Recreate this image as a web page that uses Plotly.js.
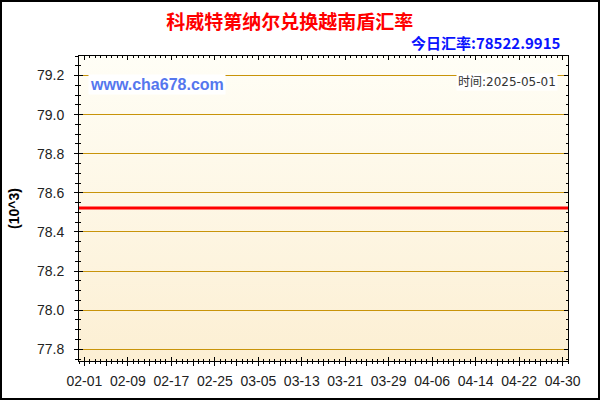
<!DOCTYPE html>
<html>
<head>
<meta charset="utf-8">
<script src="https://cdn.plot.ly/plotly-3.0.1.min.js"></script>
<style>
  html, body { margin: 0; padding: 0; background: #fff; }
  #wrap { position: relative; width: 600px; height: 400px; }
  #chart { width: 600px; height: 400px; }
  #frame { position: absolute; left: 0; top: 0; width: 600px; height: 400px; box-sizing: border-box; border: 2px solid #000; pointer-events: none; }
</style>
</head>
<body>
<div id="wrap"><div id="chart"></div><div id="frame"></div></div>
<script>
// ---- data (values in units of 10^3) ----
const dates = ['2025-01-31', '2025-05-01'];
const rates = [78.5229915, 78.5229915];
const titleText = '科威特第纳尔兑换越南盾汇率';
const todayText = '今日汇率:78522.9915';
const timeText = '时间:2025-05-01';
const siteText = 'www.cha678.com';
const yUnit = '(10^3)';
const xRange = ['2025-01-31', '2025-05-01'];
const yRange = [77.74, 79.30];
const xLabelDates = ['2025-02-01','2025-02-09','2025-02-17','2025-02-25','2025-03-05','2025-03-13','2025-03-21','2025-03-29','2025-04-06','2025-04-14','2025-04-22','2025-04-30'];
const xLabels = ['02-01','02-09','02-17','02-25','03-05','03-13','03-21','03-29','04-06','04-14','04-22','04-30'];

// tick positions: every 4 days, labelled every 8 days
const DAY = 86400000;
const tickVals = [], tickText = [];
const t0 = Date.parse('2025-02-01T00:00:00Z');
const tEnd = Date.parse('2025-05-01T00:00:00Z');
for (let t = t0; t <= tEnd; t += 4 * DAY) {
  const iso = new Date(t).toISOString().slice(0, 10);
  tickVals.push(iso);
  const k = xLabelDates.indexOf(iso);
  tickText.push(k >= 0 ? xLabels[k] : '');
}

const gradSvg = "<svg xmlns='http://www.w3.org/2000/svg' width='100' height='100' preserveAspectRatio='none'>" +
  "<defs><linearGradient id='g' x1='0' y1='0' x2='0' y2='1'>" +
  "<stop offset='0' stop-color='#FFFEF6'/><stop offset='1' stop-color='#FCEFD3'/></linearGradient></defs>" +
  "<rect width='100' height='100' fill='url(#g)'/></svg>";
const gradUri = 'data:image/svg+xml;charset=utf-8,' + encodeURIComponent(gradSvg);

const tickFont = { family: 'Liberation Sans, Arial, sans-serif', size: 14, color: '#222' };

const traces = [
  { x: dates, y: rates, type: 'scatter', mode: 'lines',
    line: { color: '#FF0000', width: 3 }, hoverinfo: 'x+y', showlegend: false },
  { x: [], y: [], xaxis: 'x2', yaxis: 'y2', type: 'scatter', mode: 'lines', showlegend: false, hoverinfo: 'skip' }
];

const layout = {
  width: 600, height: 400,
  margin: { l: 79, r: 32, t: 56, b: 39 },
  paper_bgcolor: '#FFFFFF',
  plot_bgcolor: 'rgba(0,0,0,0)',
  showlegend: false,
  title: {
    text: titleText,
    font: { family: 'Noto Sans CJK SC, sans-serif', size: 19, color: '#FF0000', weight: 'bold' },
    x: 0.483, xanchor: 'center', xref: 'container',
    y: 0.945, yanchor: 'middle', yref: 'container'
  },
  xaxis: {
    type: 'date', range: xRange, fixedrange: true,
    tickmode: 'array', tickvals: tickVals, ticktext: tickText,
    ticks: 'outside', ticklen: 4, tickwidth: 1, tickcolor: '#000',
    minor: { tickmode: 'linear', tick0: '2025-01-31', dtick: DAY, ticks: 'outside', ticklen: 2, tickcolor: '#000', showgrid: false },
    showgrid: false, zeroline: false,
    showline: true, linecolor: '#000', linewidth: 1, mirror: true,
    tickfont: tickFont, ticklabelstandoff: 3
  },
  yaxis: {
    range: yRange, fixedrange: true,
    tickmode: 'linear', tick0: 77.8, dtick: 0.2, tickformat: '.1f',
    ticks: 'outside', ticklen: 4, tickwidth: 1, tickcolor: '#000',
    minor: { tickmode: 'linear', tick0: 77.8, dtick: 0.05, ticks: 'outside', ticklen: 3, tickcolor: '#000', showgrid: false },
    showgrid: true, gridcolor: '#C8940A', gridwidth: 1, zeroline: false,
    showline: true, linecolor: '#000', linewidth: 1, mirror: true,
    tickfont: tickFont, ticklabelstandoff: 7,
    title: { text: yUnit, font: { family: 'Liberation Sans, Arial, sans-serif', size: 14, color: '#000', weight: 'bold' }, standoff: 14 }
  },
  xaxis2: {
    type: 'date', range: xRange, overlaying: 'x', anchor: 'y2', fixedrange: true,
    tickmode: 'array', tickvals: tickVals, ticktext: tickText, showticklabels: false,
    ticks: 'inside', ticklen: 4, tickwidth: 1, tickcolor: '#000', mirror: 'allticks',
    minor: { tickmode: 'linear', tick0: '2025-01-31', dtick: DAY, ticks: 'inside', ticklen: 2, tickcolor: '#000' },
    showgrid: false, zeroline: false, showline: false
  },
  yaxis2: {
    range: yRange, overlaying: 'y', anchor: 'x2', fixedrange: true,
    tickmode: 'linear', tick0: 77.8, dtick: 0.2, showticklabels: false,
    ticks: 'inside', ticklen: 4, tickwidth: 1, tickcolor: '#000', mirror: 'allticks',
    minor: { tickmode: 'linear', tick0: 77.8, dtick: 0.05, ticks: 'inside', ticklen: 2, tickcolor: '#000' },
    showgrid: false, zeroline: false, showline: false
  },
  images: [{
    source: gradUri, xref: 'paper', yref: 'paper', x: 0, y: 1, sizex: 1, sizey: 1,
    xanchor: 'left', yanchor: 'top', sizing: 'stretch', layer: 'below'
  }],
  annotations: [
    { text: todayText, xref: 'paper', yref: 'paper', x: 0.99, y: 1.043, xanchor: 'right', yanchor: 'middle',
      showarrow: false, font: { family: 'Noto Sans CJK SC, sans-serif', size: 15, color: '#0A14FF', weight: 'bold' } },
    { text: siteText, xref: 'paper', yref: 'paper', x: 0.019, y: 0.905, xanchor: 'left', yanchor: 'middle',
      showarrow: false, bgcolor: '#FFFFFF', borderpad: 1,
      font: { family: 'Liberation Sans, Arial, sans-serif', size: 16, color: '#5577EE', weight: 'bold' } },
    { text: timeText, xref: 'paper', yref: 'paper', x: 0.98, y: 0.915, xanchor: 'right', yanchor: 'middle',
      showarrow: false, bgcolor: '#FFFFFF', borderpad: 1,
      font: { family: 'DejaVu Sans, Noto Sans CJK SC, sans-serif', size: 12, color: '#333' } }
  ]
};

Plotly.newPlot('chart', traces, layout, { staticPlot: true, displayModeBar: false });
</script>
</body>
</html>
